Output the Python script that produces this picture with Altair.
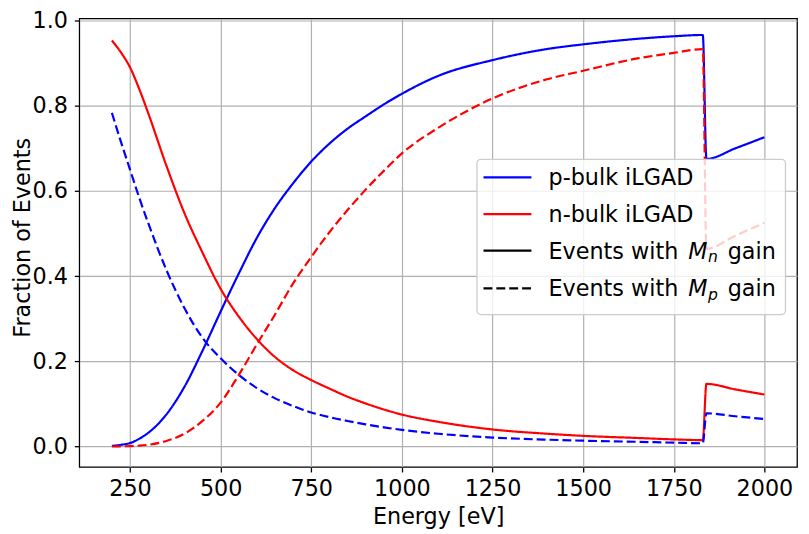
import altair as alt
import pandas as pd

energy = [200, 225, 250, 275, 300, 350, 400, 450, 500, 550, 600, 650, 700, 750, 800, 850,
          900, 950, 1000, 1100, 1250, 1400, 1500, 1650, 1750, 1830, 1840, 1920, 2000]

p_bulk_Mn = [0.0015, 0.004, 0.008, 0.018, 0.032, 0.075, 0.140, 0.225, 0.317, 0.406, 0.490,
             0.560, 0.618, 0.669, 0.711, 0.746, 0.775, 0.803, 0.828, 0.870, 0.907, 0.933,
             0.944, 0.957, 0.963, 0.966, 0.675, 0.700, 0.726]
p_bulk_Mp = [0.783, 0.715, 0.650, 0.585, 0.525, 0.415, 0.325, 0.255, 0.207, 0.168, 0.137,
             0.113, 0.095, 0.080, 0.069, 0.060, 0.052, 0.045, 0.039, 0.030, 0.021, 0.016,
             0.0137, 0.011, 0.009, 0.0076, 0.078, 0.071, 0.0646]
n_bulk_Mn = [0.953, 0.925, 0.890, 0.840, 0.783, 0.660, 0.548, 0.455, 0.370, 0.305, 0.252,
             0.210, 0.179, 0.156, 0.136, 0.117, 0.101, 0.087, 0.075, 0.058, 0.040, 0.030,
             0.025, 0.020, 0.0167, 0.015, 0.147, 0.134, 0.122]
n_bulk_Mp = [0.000, 0.0005, 0.001, 0.002, 0.004, 0.013, 0.030, 0.060, 0.103, 0.168, 0.240,
             0.310, 0.383, 0.445, 0.503, 0.555, 0.603, 0.647, 0.688, 0.748, 0.817, 0.862,
             0.882, 0.911, 0.924, 0.933, 0.464, 0.495, 0.525]

bulks = ["p-bulk iLGAD", "n-bulk iLGAD"]
gains = ["Mn", "Mp"]
x_ticks = [250, 500, 750, 1000, 1250, 1500, 1750, 2000]
y_ticks = [0.0, 0.2, 0.4, 0.6, 0.8, 1.0]

series = [
    ("p-bulk iLGAD", "Mn", p_bulk_Mn),
    ("n-bulk iLGAD", "Mn", n_bulk_Mn),
    ("p-bulk iLGAD", "Mp", p_bulk_Mp),
    ("n-bulk iLGAD", "Mp", n_bulk_Mp),
]
rows = []
for b, g, vals in series:
    for e, v in zip(energy, vals):
        rows.append({"energy": e, "value": v, "bulk": b, "gain": g, "key": b + g})
df = pd.DataFrame(rows)

FONT = "DejaVu Sans"
FS = 22.5

lines = alt.Chart(df).mark_line(strokeWidth=2.2, clip=True, interpolate="monotone").encode(
    x=alt.X("energy:Q", scale=alt.Scale(domain=[110, 2090], nice=False, zero=False),
            axis=alt.Axis(values=x_ticks, title="Energy [eV]", format="d")),
    y=alt.Y("value:Q", scale=alt.Scale(domain=[-0.0481, 1.00465], nice=False, zero=False),
            axis=alt.Axis(values=y_ticks, title="Fraction of Events", format=".1f",
                          titleX=-50, titleY=221, titleAngle=270, titleBaseline="alphabetic",
                          titleAlign="center")),
    color=alt.Color("bulk:N", scale=alt.Scale(domain=bulks, range=["#0000ff", "#ff0000"]), legend=None),
    strokeDash=alt.StrokeDash("gain:N", scale=alt.Scale(domain=gains, range=[[1, 0], [9, 4]]), legend=None),
    detail="key:N",
)

# legend box and entries (positions in plot-area pixels)
OY = -8
box = alt.Chart(pd.DataFrame({"a": [0]})).mark_rect(
    fill="white", fillOpacity=0.8, stroke="#cccccc", strokeWidth=1.3, cornerRadius=4
).encode(x=alt.value(401.7), x2=alt.value(713.3), y=alt.value(150.3 + OY), y2=alt.value(307 + OY))

leg_colors = ["#0000ff", "#ff0000", "black", "black"]
leg_dash = [[1, 0], [1, 0], [1, 0], [9, 4]]
leg_line_y = [168.5 + OY, 205.5 + OY, 242.5 + OY, 280.5 + OY]
leg_base_y = [176.5 + OY, 213.5 + OY, 250.5 + OY, 288.5 + OY]

layers = [lines, box]
one = pd.DataFrame({"a": [0]})
for c, d, ly in zip(leg_colors, leg_dash, leg_line_y):
    layers.append(alt.Chart(one).mark_rule(color=c, strokeWidth=2.2, strokeDash=d).encode(
        x=alt.value(408.3), x2=alt.value(456.7), y=alt.value(ly)))

def txt(s, x, y, size=FS, style="normal"):
    return alt.Chart(one).mark_text(text=s, font=FONT, fontSize=size, fontStyle=style,
                                    align="left", baseline="alphabetic", color="black").encode(
        x=alt.value(x), y=alt.value(y))

layers.append(txt("p-bulk iLGAD", 474, leg_base_y[0]))
layers.append(txt("n-bulk iLGAD", 474, leg_base_y[1]))
for i, sub in [(2, "n"), (3, "p")]:
    yb = leg_base_y[i]
    layers.append(txt("Events with", 474, yb))
    layers.append(txt("M", 615, yb, style="italic"))
    layers.append(txt(sub, 635, yb + 3.4, size=FS * 0.7, style="italic"))
    layers.append(txt("gain", 655, yb))

chart = alt.layer(*layers).properties(
    width=725, height=453,
    autosize=alt.AutoSizeParams(type="none"),
    padding={"left": 72, "top": 8, "right": 4, "bottom": 60},
    background="white",
).configure_view(stroke="black", strokeWidth=1.3).configure_axis(
    domain=False,
    grid=True, gridColor="#b0b0b0", gridWidth=1.2,
    ticks=True, tickColor="black", tickSize=5, tickWidth=1.3,
    labelFont=FONT, labelFontSize=FS, labelColor="black",
    titleFont=FONT, titleFontSize=FS, titleColor="black", titleFontWeight="normal",
).configure_axisX(labelPadding=6, titlePadding=6).configure_axisY(labelPadding=7)

chart.save("out.html", embed_options={"renderer": "svg", "actions": False})
